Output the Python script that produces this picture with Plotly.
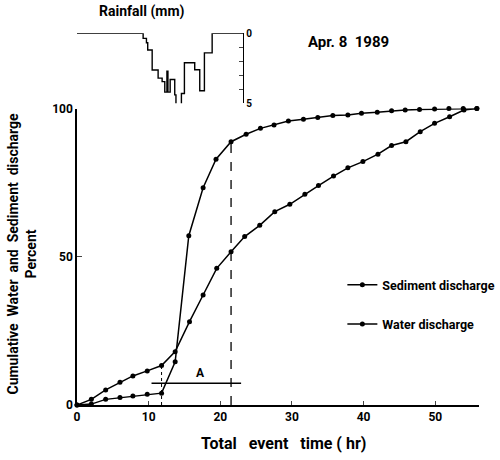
import plotly.graph_objects as go

# ---- data ----
sed_time = [0, 2, 4, 6, 7.8, 9.8, 11.8, 13.7, 15.6, 17.6, 19.4, 21.5, 23.6, 25.6, 27.5,
            29.5, 31.6, 33.6, 35.7, 37.8, 39.7, 41.9, 43.9, 45.8, 47.8, 49.9, 51.9, 53.9, 55.8]
sed_pct = [0, 0.3, 1.9, 2.5, 3.0, 3.6, 4.0, 14.6, 57.1, 73.3, 82.9, 88.8, 91.3, 93.3, 94.4,
           95.8, 96.4, 97.0, 97.6, 97.8, 98.4, 98.7, 99.2, 99.5, 99.7, 99.8, 100, 100, 100]

water_time = [0, 2.0, 4.0, 6.0, 7.8, 9.8, 11.8, 13.7, 15.7, 17.6, 19.5, 21.5, 23.4, 25.5,
              27.6, 29.7, 31.8, 33.7, 35.8, 37.8, 39.9, 42.0, 43.9, 45.9, 47.9, 49.9, 52.0, 54.0, 55.8]
water_pct = [0, 1.9, 5.1, 7.7, 9.8, 11.5, 13.3, 18.0, 28.1, 37.1, 46.1, 51.7, 56.8, 60.6,
             65.2, 67.7, 71.1, 74.0, 77.2, 80.0, 82.1, 84.6, 87.5, 88.8, 92.2, 95.0, 97.2, 99.5, 100]

# rainfall hyetograph (step edges in hr, depth in mm per step)
rain_edges = [-0.67, 9.23, 9.69, 9.87, 10.49, 11.32, 11.88, 12.25, 12.55, 12.69, 13.0,
              13.64, 13.81, 14.57, 14.99, 15.83, 16.43, 17.13, 17.78, 18.86, 23.18]
rain_depth = [0, 0.36, 0.67, 1.19, 2.62, 3.2, 3.45, 4.2, 2.7, 4.2, 3.3,
              4.4, 5.45, 4.3, 2.1, 2.1, 2.6, 4.1, 1.4, 0, 0]

# reference markers
t_dotted = 11.8        # start of sediment rise
t_dashed = 21.5        # sediment reaches ~89 %
a_start, a_end, a_level = 10.4, 22.9, 7.3

x_ticks = [0, 10, 20, 30, 40, 50]
y_ticks = [0, 50, 100]
rain_ticks = [0, 1, 2, 3, 4, 5]
rain_ticktext = ["0", "", "", "", "", "5"]

FONT = "Roboto, Lato, DejaVu Sans, sans-serif"
NB = "\u00a0"

# plot area target (screen px): x 76.5-478.7, y 30-405
PX_L, PX_R, PX_T, PX_B = 76.5, 478.7, 30, 405
W_PLOT, H_PLOT = PX_R - PX_L, PX_B - PX_T


def px_x(px):
    return (px - PX_L) / W_PLOT


def px_y(py):
    return (PX_B - py) / H_PLOT


fig = go.Figure()

fig.add_trace(go.Scatter(x=sed_time, y=sed_pct, mode="lines+markers",
                         name="Sediment discharge", legendgroup="s",
                         line=dict(color="black", width=1.5),
                         marker=dict(color="black", size=5), cliponaxis=False))
fig.add_trace(go.Scatter(x=water_time, y=water_pct, mode="lines+markers",
                         name="Water discharge", legendgroup="w",
                         line=dict(color="black", width=1.5),
                         marker=dict(color="black", size=5), cliponaxis=False))

# dashed / dotted verticals and bar A
fig.add_trace(go.Scatter(x=[t_dashed, t_dashed], y=[0, sed_pct[11]], mode="lines",
                         line=dict(color="black", width=1.3, dash="dash"),
                         showlegend=False, hoverinfo="skip"))
fig.add_trace(go.Scatter(x=[t_dotted, t_dotted], y=[0, water_pct[6]], mode="lines",
                         line=dict(color="black", width=1, dash="dot"),
                         showlegend=False, hoverinfo="skip"))
fig.add_trace(go.Scatter(x=[a_start, a_end], y=[a_level, a_level], mode="lines",
                         line=dict(color="black", width=1.5),
                         showlegend=False, hoverinfo="skip"))

# hyetograph
fig.add_trace(go.Scatter(x=rain_edges, y=rain_depth, mode="lines", line_shape="hv",
                         line=dict(color="black", width=1.4), xaxis="x2", yaxis="y2",
                         showlegend=False, cliponaxis=False, hoverinfo="skip"))

ann_font = dict(family=FONT, color="black", weight="bold")
fig.add_annotation(x=17.2, y=10.8, text="A", showarrow=False,
                   font=dict(ann_font, size=12))
fig.add_annotation(xref="paper", yref="paper", x=px_x(142), y=px_y(11),
                   xanchor="center", yanchor="middle",
                   text="Rainfall (mm)", showarrow=False, font=dict(ann_font, size=14))
fig.add_annotation(xref="paper", yref="paper", x=px_x(348), y=px_y(42),
                   xanchor="center", yanchor="middle",
                   text=f"Apr.{NB}8 {NB}1989", showarrow=False, font=dict(ann_font, size=15))
fig.add_annotation(xref="paper", yref="paper", x=px_x(21), y=px_y(254),
                   xanchor="center", yanchor="middle",
                   text=f"Cumulative{NB} Water{NB} and{NB} Sediment{NB} discharge<br>Percent",
                   textangle=-90, showarrow=False, font=dict(ann_font, size=14))
fig.add_annotation(xref="paper", yref="paper", x=px_x(283), y=px_y(443),
                   xanchor="center", yanchor="middle",
                   text=f"Total{NB}{NB} event{NB}{NB} time ( hr)", showarrow=False,
                   font=dict(ann_font, size=16))

fig.update_layout(
    width=500, height=460,
    margin=dict(l=PX_L, r=500 - PX_R, t=PX_T, b=460 - PX_B, autoexpand=False),
    paper_bgcolor="white", plot_bgcolor="white",
    font=dict(family=FONT, size=12, color="black", weight="bold"),
    showlegend=True,
    legend=dict(x=px_x(342), y=px_y(270), xanchor="left", yanchor="top",
                bgcolor="rgba(0,0,0,0)", tracegroupgap=20,
                font=dict(family=FONT, size=12.5, color="black", weight="bold")),
    xaxis=dict(range=[0, 56.1], domain=[0, 1], tickvals=x_ticks, ticks="inside", ticklen=4,
               showline=True, linecolor="black", linewidth=1.5, showgrid=False,
               zeroline=False, tickfont=dict(size=12), anchor="y", automargin=False),
    yaxis=dict(range=[0, 100], domain=[0, px_y(108.5)], tickvals=y_ticks,
               ticks="inside", ticklen=5, showline=True, linecolor="black", linewidth=1.5,
               showgrid=False, zeroline=False, tickfont=dict(size=12), anchor="x",
               automargin=False),
    xaxis2=dict(range=[0, 23.18], domain=[0, 23.18 / 56.1], visible=False, anchor="y2"),
    yaxis2=dict(range=[5, 0], domain=[px_y(103.3), px_y(33.3)],
                side="right", anchor="x2", tickvals=rain_ticks, ticktext=rain_ticktext,
                ticks="inside", ticklen=4, showline=True, linecolor="black", linewidth=1.4,
                showgrid=False, zeroline=False, tickfont=dict(size=10), automargin=False),
)

fig.write_html("out.html", config={"displayModeBar": False},
               post_script="document.body.style.margin='0px';")
